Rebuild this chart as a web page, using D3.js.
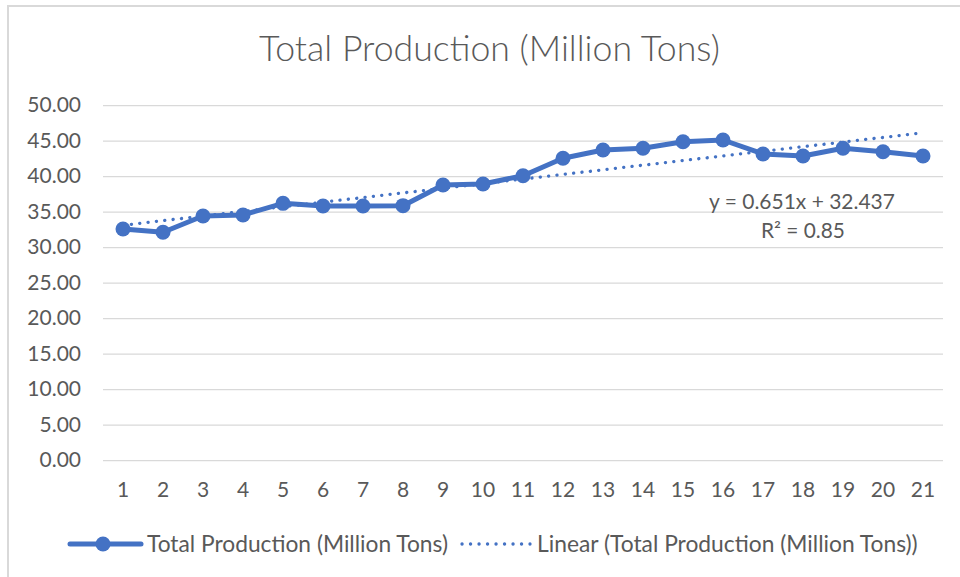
<!DOCTYPE html>
<html>
<head>
<meta charset="utf-8">
<script src="https://cdn.jsdelivr.net/npm/d3@7"></script>
<style>
  html, body { margin: 0; padding: 0; background: #ffffff; }
  svg { display: block; }
</style>
</head>
<body>
<svg id="chart" width="960" height="577"></svg>
<script>
// ---- data ----
const categories = [1, 2, 3, 4, 5, 6, 7, 8, 9, 10, 11, 12, 13, 14, 15, 16, 17, 18, 19, 20, 21];
const production = [32.56, 32.10, 34.39, 34.54, 36.18, 35.80, 35.80, 35.85, 38.76, 38.90, 40.07,
                    42.52, 43.69, 43.93, 44.86, 45.10, 43.13, 42.85, 43.93, 43.45, 42.85];
const yTicks = [0, 5, 10, 15, 20, 25, 30, 35, 40, 45, 50];
const trendSlope = 0.651;
const trendIntercept = 32.437;
const rSquared = 0.85;
const titleText = "Total Production (Million Tons)";
const seriesName = "Total Production (Million Tons)";
const trendName = "Linear (Total Production (Million Tons))";

// ---- layout ----
const W = 960, H = 577;
const FONT = "Lato, 'Open Sans', sans-serif";
const TEXT = "#595959";
const BLUE = "#4472C4";
const GRID = "#D9D9D9";
const plot = { left: 103, right: 943, top: 105.2, bottom: 460.2 };

const svg = d3.select("#chart");
svg.append("rect").attr("width", W).attr("height", H).attr("fill", "#fff");
// chart border
svg.append("rect").attr("x", 8).attr("y", 6).attr("width", W + 20).attr("height", H + 20)
  .attr("fill", "none").attr("stroke", GRID).attr("stroke-width", 2);

function fit(sel, w) {
  const len = sel.node().getComputedTextLength();
  const fs = parseFloat(sel.attr("font-size"));
  sel.attr("font-size", fs * w / len);
  return sel;
}

const x = d3.scaleBand().domain(categories).range([plot.left, plot.right]);
const xc = d => x(d) + x.bandwidth() / 2;
const y = d3.scaleLinear().domain([0, 50]).range([plot.bottom, plot.top]);

// title
fit(svg.append("text").attr("x", 489.5).attr("y", 61).attr("text-anchor", "middle")
  .attr("font-family", FONT).attr("font-weight", 300).attr("font-size", 32)
  .attr("fill", TEXT).text(titleText), 461);

// y axis with grid
const yAxis = d3.axisLeft(y).tickValues(yTicks).tickFormat(d => d.toFixed(2))
  .tickSize(-(plot.right - plot.left)).tickPadding(22);
const gy = svg.append("g").attr("transform", `translate(${plot.left},0)`).call(yAxis);
gy.select(".domain").remove();
gy.selectAll(".tick line").attr("stroke", GRID).attr("stroke-width", 1.3);
gy.selectAll(".tick text").attr("font-family", FONT).attr("font-size", 21)
  .attr("fill", TEXT);

// x axis labels
const xAxis = d3.axisBottom(x).tickSize(0).tickPadding(22);
const gx = svg.append("g").attr("transform", `translate(0,${plot.bottom})`).call(xAxis);
gx.select(".domain").remove();
gx.selectAll(".tick text").attr("font-family", FONT).attr("font-size", 21).attr("fill", TEXT);

// trend line
const trendPts = [categories[0], categories[categories.length - 1]]
  .map(c => ({ c, v: trendSlope * c + trendIntercept }));
svg.append("path").datum(trendPts)
  .attr("d", d3.line().x(d => xc(d.c)).y(d => y(d.v)))
  .attr("fill", "none").attr("stroke", BLUE).attr("stroke-width", 3.3)
  .attr("stroke-linecap", "round").attr("stroke-dasharray", "0.1 8.3");

// series line
const data = categories.map((c, i) => ({ c, v: production[i] }));
svg.append("path").datum(data)
  .attr("d", d3.line().x(d => xc(d.c)).y(d => y(d.v)))
  .attr("fill", "none").attr("stroke", BLUE).attr("stroke-width", 5)
  .attr("stroke-linejoin", "round");
svg.append("g").selectAll("circle").data(data).join("circle")
  .attr("cx", d => xc(d.c)).attr("cy", d => y(d.v)).attr("r", 7.5)
  .attr("fill", BLUE);

// trend equation
fit(svg.append("text").attr("x", 802).attr("y", 209).attr("text-anchor", "middle")
  .attr("font-family", FONT).attr("font-size", 20).attr("fill", TEXT)
  .text(`y = ${trendSlope}x + ${trendIntercept}`), 186);
fit(svg.append("text").attr("x", 803).attr("y", 238).attr("text-anchor", "middle")
  .attr("font-family", FONT).attr("font-size", 20).attr("fill", TEXT)
  .text(`R² = ${rSquared}`), 84);

// legend
const ly = 544;
svg.append("line").attr("x1", 70).attr("x2", 141).attr("y1", ly).attr("y2", ly)
  .attr("stroke", BLUE).attr("stroke-width", 5).attr("stroke-linecap", "round");
svg.append("circle").attr("cx", 103).attr("cy", ly).attr("r", 7.5).attr("fill", BLUE);
fit(svg.append("text").attr("x", 147).attr("y", ly).attr("dy", "0.35em")
  .attr("font-family", FONT).attr("font-size", 20).attr("fill", TEXT).text(seriesName), 301);
svg.append("line").attr("x1", 462).attr("x2", 530).attr("y1", ly).attr("y2", ly)
  .attr("stroke", BLUE).attr("stroke-width", 3.3).attr("stroke-linecap", "round")
  .attr("stroke-dasharray", "0.1 8.4");
fit(svg.append("text").attr("x", 537).attr("y", ly).attr("dy", "0.35em")
  .attr("font-family", FONT).attr("font-size", 20).attr("fill", TEXT).text(trendName), 381);
</script>
</body>
</html>
